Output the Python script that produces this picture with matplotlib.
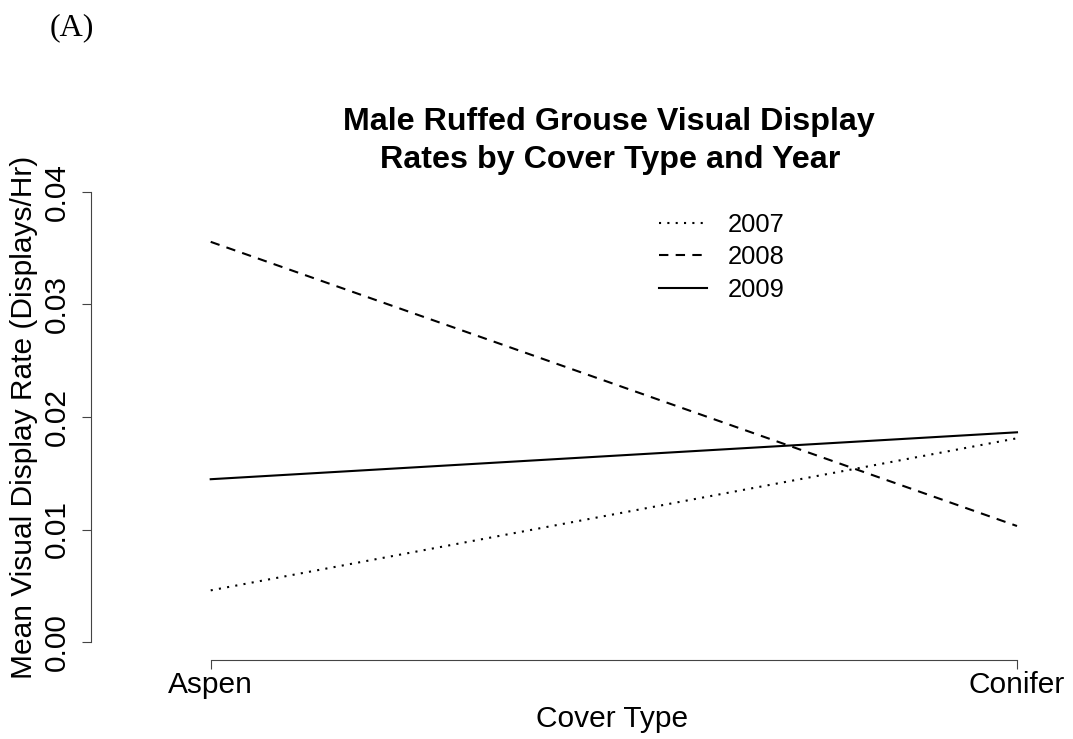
import numpy as np
import matplotlib.pyplot as plt

# mean visual display rate per cover type and year
cover_types = ['Aspen', 'Conifer']
years = ['2007', '2008', '2009']
rate_2007 = [0.00459, 0.01811]
rate_2008 = [0.03557, 0.01031]
rate_2009 = [0.01447, 0.01864]
y_ticks = [0.00, 0.01, 0.02, 0.03, 0.04]
y_tick_labels = ['0.00', '0.01', '0.02', '0.03', '0.04']

styles = [(0, (1, 3)), (0, (4.5, 3.5)), '-']

W, H = 1073, 739
plt.rcParams['font.family'] = ['Liberation Sans', 'DejaVu Sans']

fig = plt.figure(figsize=(W / 100, H / 100), dpi=100)
# plot region (pixels): left 91, right 1133 (past the crop), top 174, bottom 660
ax = fig.add_axes([91 / W, (H - 660) / H, 1042 / W, 486 / H])

x = np.arange(1, len(cover_types) + 1)
for vals, ls, lab in zip([rate_2007, rate_2008, rate_2009], styles, years):
    ax.plot(x, vals, color='black', lw=1.5, linestyle=ls, label=lab)

ax.set_xlim(1 - (210.7 - 91) / 806.3, 2 + (1133 - 1017) / 806.3)
ax.set_ylim(-0.0016, 0.0416)

for s in ['top', 'right']:
    ax.spines[s].set_visible(False)
for s in ['left', 'bottom']:
    ax.spines[s].set_color('#444444')
    ax.spines[s].set_linewidth(0.8)
ax.spines['left'].set_bounds(0, 0.04)
ax.spines['bottom'].set_bounds(1, 2)

ax.set_yticks(y_ticks)
ax.set_yticklabels(y_tick_labels, rotation=90, va='center')
ax.set_xticks(x)
ax.set_xticklabels(cover_types)
ax.tick_params(axis='both', length=6.5, width=0.8, color='#444444', labelsize=21.5)
ax.tick_params(axis='y', pad=8)
ax.tick_params(axis='x', pad=1.5)

def px(xp, yp):
    return xp / W, 1 - yp / H

fig.text(*px(24, 417), 'Mean Visual Display Rate (Displays/Hr)', rotation=90,
         ha='center', va='center', fontsize=21.5)
fig.text(*px(612, 727), 'Cover Type', ha='center', va='baseline', fontsize=21.5)
fig.text(*px(609, 130), 'Male Ruffed Grouse Visual Display', ha='center',
         va='baseline', fontsize=23.2, fontweight='bold')
fig.text(*px(610, 168), 'Rates by Cover Type and Year', ha='center',
         va='baseline', fontsize=23.2, fontweight='bold')
fig.text(*px(50, 35), '(A)', ha='left', va='baseline', fontsize=23,
         family=['Liberation Serif', 'DejaVu Serif'])

ax.legend(loc='upper left', bbox_to_anchor=px(659, 213), bbox_transform=fig.transFigure,
          frameon=False, fontsize=18.4, handlelength=1.875, handletextpad=0.82,
          labelspacing=0.33, borderpad=0, borderaxespad=0)

fig.savefig('out.png', dpi=100)
